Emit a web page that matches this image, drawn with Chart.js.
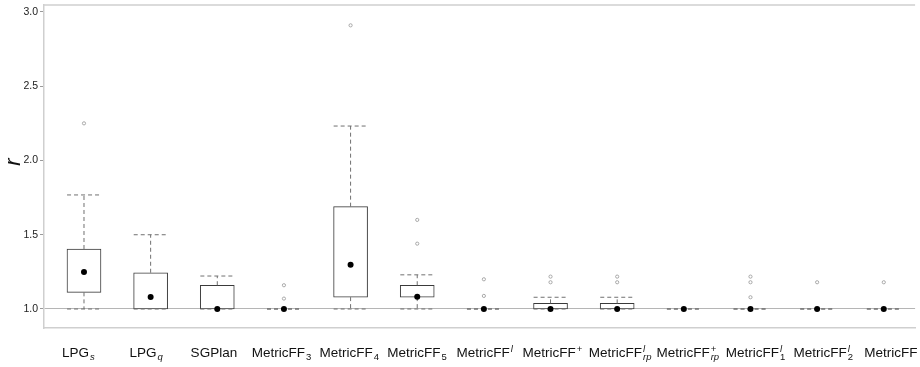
<!DOCTYPE html>
<html>
<head>
<meta charset="utf-8">
<script src="https://cdn.jsdelivr.net/npm/chart.js@4/dist/chart.umd.min.js"></script>
<style>
  html, body { margin: 0; padding: 0; background: #fff; overflow: hidden; }
  #wrap { width: 920px; height: 367px; }
</style>
</head>
<body>
<div id="wrap"><canvas id="c" width="920" height="367"></canvas></div>
<script>
// Planner names, with optional superscript / subscript decorations
const categories = ['LPG', 'LPG', 'SGPlan', 'MetricFF', 'MetricFF', 'MetricFF', 'MetricFF',
                    'MetricFF', 'MetricFF', 'MetricFF', 'MetricFF', 'MetricFF', 'MetricFF'];
const labelSup = ['', '', '', '', '', '', 'l', '+', 'l', '+', 'l', 'l', ''];
const labelSub = ['s', 'q', '', '3', '4', '5', '', '', 'rp', 'rp', '1', '2', ''];

// Box statistics of the ratio r per planner
const whiskerLow  = [1.0, 1.0, 1.0, 1.0, 1.0, 1.0, 1.0, 1.0, 1.0, 1.0, 1.0, 1.0, 1.0];
const q1          = [1.112, 1.0, 1.0, 1.0, 1.08, 1.08, 1.0, 1.0, 1.0, 1.0, 1.0, 1.0, 1.0];
const q3          = [1.404, 1.244, 1.16, 1.0, 1.689, 1.16, 1.0, 1.038, 1.038, 1.0, 1.0, 1.0, 1.0];
const whiskerHigh = [1.768, 1.5, 1.222, 1.0, 2.232, 1.23, 1.0, 1.079, 1.079, 1.0, 1.0, 1.0, 1.0];
const means       = [1.249, 1.081, 1.0, 1.0, 1.298, 1.083, 1.0, 1.0, 1.0, 1.0, 1.0, 1.0, 1.0];
const outliers    = [[2.25], [], [], [1.16, 1.07], [2.91], [1.60, 1.44], [1.20, 1.088],
                     [1.218, 1.18], [1.218, 1.18], [], [1.218, 1.18, 1.079], [1.18], [1.18]];

const yTicks = [1.0, 1.5, 2.0, 2.5, 3.0];

// Box datasets built from the statistics
const capHalf = 0.254;
const boxData = categories.map((_, i) => ({ x: i, y: [q1[i], q3[i]] }));
const whiskerData = [];
categories.forEach((_, i) => {
  const gap = { x: i, y: null };
  whiskerData.push({ x: i, y: q3[i] }, { x: i, y: whiskerHigh[i] }, gap);
  whiskerData.push({ x: i, y: q1[i] }, { x: i, y: whiskerLow[i] }, gap);
  whiskerData.push({ x: i - capHalf, y: whiskerHigh[i] }, { x: i + capHalf, y: whiskerHigh[i] }, gap);
  whiskerData.push({ x: i - capHalf, y: whiskerLow[i] }, { x: i + capHalf, y: whiskerLow[i] }, gap);
});
const meanData = means.map((v, i) => ({ x: i, y: v }));
const outlierData = [];
outliers.forEach((arr, i) => arr.forEach(v => outlierData.push({ x: i, y: v })));

const FRAME = '#cfcfcf';
const FONT = '"Liberation Sans", Arial, Helvetica, sans-serif';

// Top frame edge, rotated axis title and rich category labels
const decorations = {
  id: 'decorations',
  afterDraw(chart) {
    const { ctx, chartArea: a, scales } = chart;
    ctx.save();
    ctx.strokeStyle = FRAME;
    ctx.lineWidth = 1.5;
    ctx.beginPath();
    ctx.moveTo(a.left - 0.75, a.top);
    ctx.lineTo(a.right, a.top);
    ctx.stroke();

    // axis title
    ctx.fillStyle = '#111';
    ctx.font = 'italic 22px ' + FONT;
    ctx.textAlign = 'center';
    ctx.textBaseline = 'middle';
    ctx.translate(14, scales.y.getPixelForValue(1.99));
    ctx.rotate(-Math.PI / 2);
    ctx.fillText('r', 0, 0);
    ctx.restore();

    // category labels
    ctx.save();
    const baseFont = '13.5px ' + FONT;
    const scriptFont = (s) => (/[a-z]/.test(s) ? 'italic ' : '') + '9.5px ' + FONT;
    const baseline = a.bottom + 29;
    ctx.fillStyle = '#111';
    ctx.textBaseline = 'alphabetic';
    ctx.textAlign = 'left';
    categories.forEach((name, i) => {
      ctx.font = baseFont;
      const wb = ctx.measureText(name).width;
      ctx.font = scriptFont(labelSup[i]);
      const wsup = labelSup[i] ? ctx.measureText(labelSup[i]).width + 1 : 0;
      ctx.font = scriptFont(labelSub[i]);
      const wsub = labelSub[i] ? ctx.measureText(labelSub[i]).width + 1 : 0;
      const total = wb + Math.max(wsup, wsub);
      const cx = scales.x.getPixelForValue(i) - 5.5 + 1.05 * i;
      const left = cx - total / 2;
      ctx.font = baseFont;
      ctx.fillText(name, left, baseline);
      if (labelSup[i]) {
        ctx.font = scriptFont(labelSup[i]);
        ctx.fillText(labelSup[i], left + wb + 1, baseline - 5);
      }
      if (labelSub[i]) {
        ctx.font = scriptFont(labelSub[i]);
        ctx.fillText(labelSub[i], left + wb + 1, baseline + 3);
      }
    });
    ctx.restore();
  }
};

new Chart(document.getElementById('c'), {
  type: 'bar',
  data: {
    datasets: [
      {
        type: 'bar',
        data: boxData,
        backgroundColor: '#ffffff',
        borderColor: '#3a3a3a',
        borderWidth: 1,
        borderSkipped: false,
        barThickness: 34,
        order: 3
      },
      {
        type: 'line',
        data: whiskerData,
        borderColor: '#707070',
        borderWidth: 1,
        borderDash: [4, 3],
        pointRadius: 0,
        spanGaps: false,
        fill: false,
        tension: 0,
        order: 2
      },
      {
        type: 'scatter',
        data: outlierData,
        pointRadius: 1.6,
        pointBackgroundColor: '#ffffff',
        pointBorderColor: '#a0a0a0',
        pointBorderWidth: 0.9,
        order: 1
      },
      {
        type: 'scatter',
        data: meanData,
        pointRadius: 3,
        pointBackgroundColor: '#000000',
        pointBorderWidth: 0,
        order: 0
      }
    ]
  },
  options: {
    responsive: false,
    devicePixelRatio: 1,
    animation: false,
    events: [],
    layout: { padding: { top: 5, left: 0, right: 0, bottom: 0 } },
    plugins: { legend: { display: false }, tooltip: { enabled: false } },
    scales: {
      x: {
        type: 'linear',
        min: -0.6,
        max: 12.47,
        offset: false,
        ticks: { display: false },
        grid: { display: false },
        border: { display: true, color: FRAME, width: 1.5 },
        afterFit(s) { s.height = 39; s.paddingLeft = 0; s.paddingRight = 0; }
      },
      y: {
        type: 'linear',
        min: 0.872,
        max: 3.047,
        afterBuildTicks(s) { s.ticks = yTicks.map(v => ({ value: v })); },
        ticks: {
          callback: v => Number(v).toFixed(1),
          color: '#222222',
          font: { family: FONT, size: 10.5 },
          padding: 2
        },
        grid: {
          color: c => (c.tick && c.tick.value === 1 ? '#b5b5b5' : 'rgba(0,0,0,0)'),
          tickColor: '#9a9a9a',
          tickLength: 4,
          lineWidth: 1
        },
        border: { display: true, color: FRAME, width: 1.5 },
        afterFit(s) { s.width = 44; s.paddingTop = 0; s.paddingBottom = 0; }
      }
    }
  },
  plugins: [decorations]
});
</script>
</body>
</html>
